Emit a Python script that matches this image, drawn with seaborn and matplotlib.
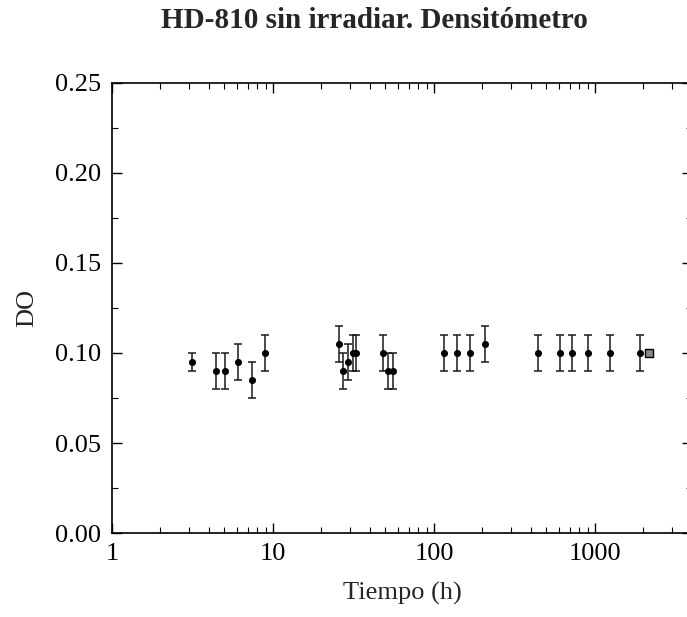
import numpy as np
import pandas as pd
import matplotlib
matplotlib.use("Agg")
import matplotlib.pyplot as plt
import seaborn as sns
from matplotlib.ticker import FixedLocator, LogLocator, NullFormatter, MultipleLocator, FormatStrFormatter

# data
tiempo = [3.15, 4.4, 5.05, 6.1, 7.45, 8.9,
          25.7, 27.1, 29.2, 31.3, 32.6,
          48.4, 51.6, 55.9,
          116, 140, 167, 209,
          443, 606, 723, 905, 1240, 1905]
do_vals = [0.095, 0.090, 0.090, 0.095, 0.085, 0.100,
           0.105, 0.090, 0.095, 0.100, 0.100,
           0.100, 0.090, 0.090,
           0.100, 0.100, 0.100, 0.105,
           0.100, 0.100, 0.100, 0.100, 0.100, 0.100]
do_err = [0.005, 0.010, 0.010, 0.010, 0.010, 0.010,
          0.010, 0.010, 0.010, 0.010, 0.010,
          0.010, 0.010, 0.010,
          0.010, 0.010, 0.010, 0.010,
          0.010, 0.010, 0.010, 0.010, 0.010, 0.010]
extra_tiempo = [2165]
extra_do = [0.100]

x_ticks = [1, 10, 100, 1000]
x_labels = ["1", "10", "100", "1000"]

df = pd.DataFrame({"Tiempo": tiempo, "DO": do_vals, "err": do_err})

sns.set_style("ticks")
plt.rcParams['font.family'] = ['Liberation Serif', 'DejaVu Serif']

fig = plt.figure(figsize=(6.87, 6.17), dpi=100)
ax = fig.add_axes([0.163, 0.136, 0.844, 0.730])

ax.errorbar(df["Tiempo"], df["DO"], yerr=df["err"], fmt="none",
            ecolor="#1a1a1a", elinewidth=1.1, capsize=3, capthick=1.1, zorder=2)
sns.scatterplot(data=df, x="Tiempo", y="DO", ax=ax, color="black",
                s=26, edgecolor="black", linewidth=0, zorder=3, legend=False)
sns.scatterplot(x=extra_tiempo, y=extra_do, ax=ax, marker="s", color="#888888",
                edgecolor="black", linewidth=1, s=30, zorder=3, legend=False)

ax.set_xscale("log")
ax.set_xlim(1, 4000)
ax.set_ylim(0, 0.25)

ax.xaxis.set_major_locator(FixedLocator(x_ticks))
ax.set_xticklabels(x_labels)
ax.xaxis.set_minor_locator(LogLocator(base=10, subs=np.arange(2, 10)))
ax.xaxis.set_minor_formatter(NullFormatter())
ax.yaxis.set_major_locator(MultipleLocator(0.05))
ax.yaxis.set_minor_locator(MultipleLocator(0.025))
ax.yaxis.set_major_formatter(FormatStrFormatter("%.2f"))

ax.tick_params(which="both", direction="in", top=True, right=True,
               labelsize=19, colors="black")
ax.tick_params(axis="x", which="major", pad=7)
ax.tick_params(axis="y", which="major", pad=8)
ax.tick_params(which="major", length=7, width=1)
ax.tick_params(which="minor", length=4, width=0.8)
for sp in ax.spines.values():
    sp.set_linewidth(1.2)
    sp.set_color("black")

ax.set_xlabel("Tiempo (h)", fontsize=19, labelpad=12)
ax.set_ylabel("DO", fontsize=19, labelpad=12)

fig.text(0.545, 0.966, "HD-810 sin irradiar. Densitómetro", ha="center",
         va="center", fontsize=21, fontweight="bold")

fig.savefig("out.png", dpi=100)
